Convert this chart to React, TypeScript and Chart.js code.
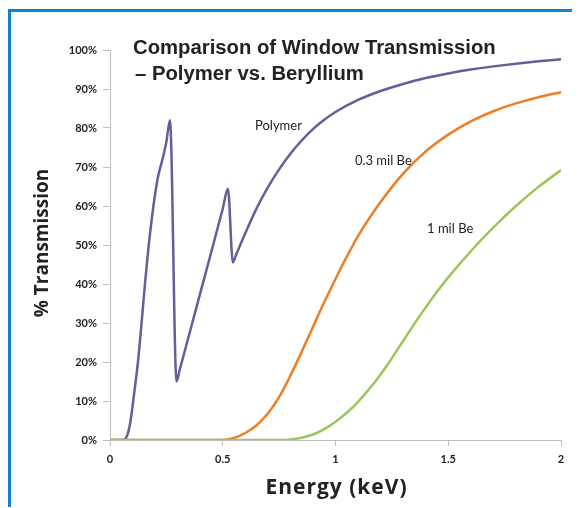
import React, { useEffect, useRef } from "react";
import { Chart, registerables } from "chart.js";

Chart.register(...registerables);

// Energy (keV) / transmission (%)
const polymerEnergy = [0, 0.058, 0.075, 0.09, 0.105, 0.124, 0.14, 0.155, 0.17, 0.186, 0.2, 0.213, 0.235, 0.25, 0.266, 0.295, 0.31, 0.35, 0.4, 0.45, 0.5, 0.523, 0.545, 0.56, 0.6, 0.65, 0.7, 0.75, 0.8, 0.85, 0.9, 0.95, 1.0, 1.1, 1.2, 1.3, 1.4, 1.5, 1.6, 1.7, 1.8, 1.9, 2.0];
const polymerTransmission = [0, 0, 1, 4.5, 11, 20, 30, 40, 49, 57, 63, 67.5, 72.5, 76.5, 82, 15, 18.2, 26.8, 37.6, 48.4, 59.3, 64.4, 45.5, 47.6, 53, 59.4, 64.8, 69.4, 73.4, 76.8, 79.7, 82.1, 84.1, 87.2, 89.5, 91.3, 92.8, 94.0, 95.0, 95.8, 96.5, 97.1, 97.6];

const be03Energy = [0, 0.5, 0.55, 0.6, 0.65, 0.7, 0.75, 0.8, 0.85, 0.9, 0.95, 1.0, 1.05, 1.1, 1.2, 1.3, 1.4, 1.5, 1.6, 1.7, 1.8, 1.9, 2.0];
const be03Transmission = [0, 0, 0.5, 1.8, 3.8, 6.8, 11, 16.5, 22.6, 29, 35.3, 41.3, 47, 52.3, 61, 68.3, 74, 78.3, 81.7, 84.3, 86.3, 87.9, 89.2];

const be1Energy = [0, 0.76, 0.8, 0.85, 0.9, 0.95, 1.0, 1.05, 1.1, 1.15, 1.2, 1.25, 1.3, 1.35, 1.4, 1.45, 1.5, 1.6, 1.7, 1.8, 1.9, 2.0];
const be1Transmission = [0, 0, 0.15, 0.6, 1.4, 2.8, 4.7, 7.0, 9.8, 13.1, 16.8, 21, 25.4, 29.8, 34.0, 38.0, 41.7, 48.4, 54.5, 60.0, 64.9, 69.2];

const seriesNames = ["Polymer", "0.3 mil Be", "1 mil Be"];
const xTickLabels = ["0", "0.5", "1", "1.5", "2"];
const titleLines = ["Comparison of Window Transmission", "\u2013 Polymer vs. Beryllium"];
const xAxisTitle = "Energy (keV)";
const yAxisTitle = "% Transmission";

// label anchor points in data units (energy, transmission)
const seriesLabelEnergy = [0.643, 1.086, 1.406];
const seriesLabelTransmission = [80.6, 71.6, 54.2];

const COLORS = ["#6b5b9a", "#ee7d24", "#9cc65a"];

function toPoints(xs: number[], ys: number[]) {
  return xs.map((x, i) => ({ x, y: ys[i] }));
}

const overlayPlugin = {
  id: "overlay",
  afterDraw(chart: any) {
    const { ctx, scales, chartArea } = chart;
    const x = scales.x;
    const y = scales.y;
    ctx.save();
    ctx.fillStyle = "#222";
    ctx.textBaseline = "middle";
    ctx.textAlign = "left";
    ctx.font = 'bold 20.3px "Liberation Sans", Arial, sans-serif';
    ctx.fillText(titleLines[0], 122, 36);
    ctx.fillText(titleLines[1], 124, 62);

    ctx.font = '13px Lato, "Open Sans", sans-serif';
    for (let i = 0; i < seriesNames.length; i++) {
      ctx.fillText(
        seriesNames[i],
        x.getPixelForValue(seriesLabelEnergy[i]),
        y.getPixelForValue(seriesLabelTransmission[i])
      );
    }

    ctx.textAlign = "center";
    ctx.font = 'bold 21px "Open Sans", Lato, sans-serif';
    (ctx as any).letterSpacing = "1px";
    ctx.fillText(xAxisTitle, (chartArea.left + chartArea.right) / 2 + 1, 476);
    (ctx as any).letterSpacing = "0px";
    ctx.font = 'bold 19px "Open Sans", Lato, sans-serif';
    ctx.translate(32, 231);
    ctx.rotate(-Math.PI / 2);
    ctx.fillText(yAxisTitle, 0, 0);
    ctx.restore();
  },
};

export default function App() {
  const ref = useRef<HTMLCanvasElement>(null);

  useEffect(() => {
    const tickFont = { family: 'Lato, "Open Sans", sans-serif', weight: "bold" as const, size: 11 };
    const chart = new Chart(ref.current!, {
      type: "scatter",
      data: {
        datasets: [
          {
            label: seriesNames[2],
            data: toPoints(be1Energy, be1Transmission),
            borderColor: COLORS[2],
          },
          {
            label: seriesNames[1],
            data: toPoints(be03Energy, be03Transmission),
            borderColor: COLORS[1],
          },
          {
            label: seriesNames[0],
            data: toPoints(polymerEnergy, polymerTransmission),
            borderColor: COLORS[0],
          },
        ].map((d) => ({
          ...d,
          showLine: true,
          borderWidth: 2.5,
          pointRadius: 0,
          cubicInterpolationMode: "monotone" as const,
          backgroundColor: d.borderColor,
        })),
      },
      options: {
        animation: false,
        responsive: false,
        layout: { padding: { top: 38, right: 19, left: 0, bottom: 0 } },
        plugins: {
          legend: { display: false },
          tooltip: { enabled: false },
          title: { display: false },
        },
        scales: {
          x: {
            type: "linear",
            min: 0,
            max: 2,
            afterFit: (s: any) => {
              s.height = 68;
            },
            ticks: {
              stepSize: 0.5,
              callback: (_v: any, i: number) => xTickLabels[i],
              font: tickFont,
              color: "#222",
              padding: 7,
              maxRotation: 0,
            },
            grid: { drawOnChartArea: false, drawTicks: true, tickLength: 6, color: "#bfbfbf" },
            border: { color: "#bfbfbf", width: 1 },
          },
          y: {
            min: 0,
            max: 100,
            afterFit: (s: any) => {
              s.width = 99;
            },
            ticks: {
              stepSize: 10,
              callback: (v: any) => v + "%",
              font: tickFont,
              color: "#222",
              padding: 6,
            },
            grid: { drawOnChartArea: false, drawTicks: true, tickLength: 7, color: "#bfbfbf" },
            border: { color: "#bfbfbf", width: 1 },
          },
        },
      },
      plugins: [overlayPlugin],
    });
    return () => chart.destroy();
  }, []);

  return (
    <div
      style={{
        position: "relative",
        top: 1,
        width: 569,
        height: 496,
        borderTop: "3px solid #1183cf",
        borderLeft: "3px solid #1183cf",
        background: "#fff",
      }}
    >
      <canvas ref={ref} width={569} height={496} style={{ display: "block" }} />
    </div>
  );
}
